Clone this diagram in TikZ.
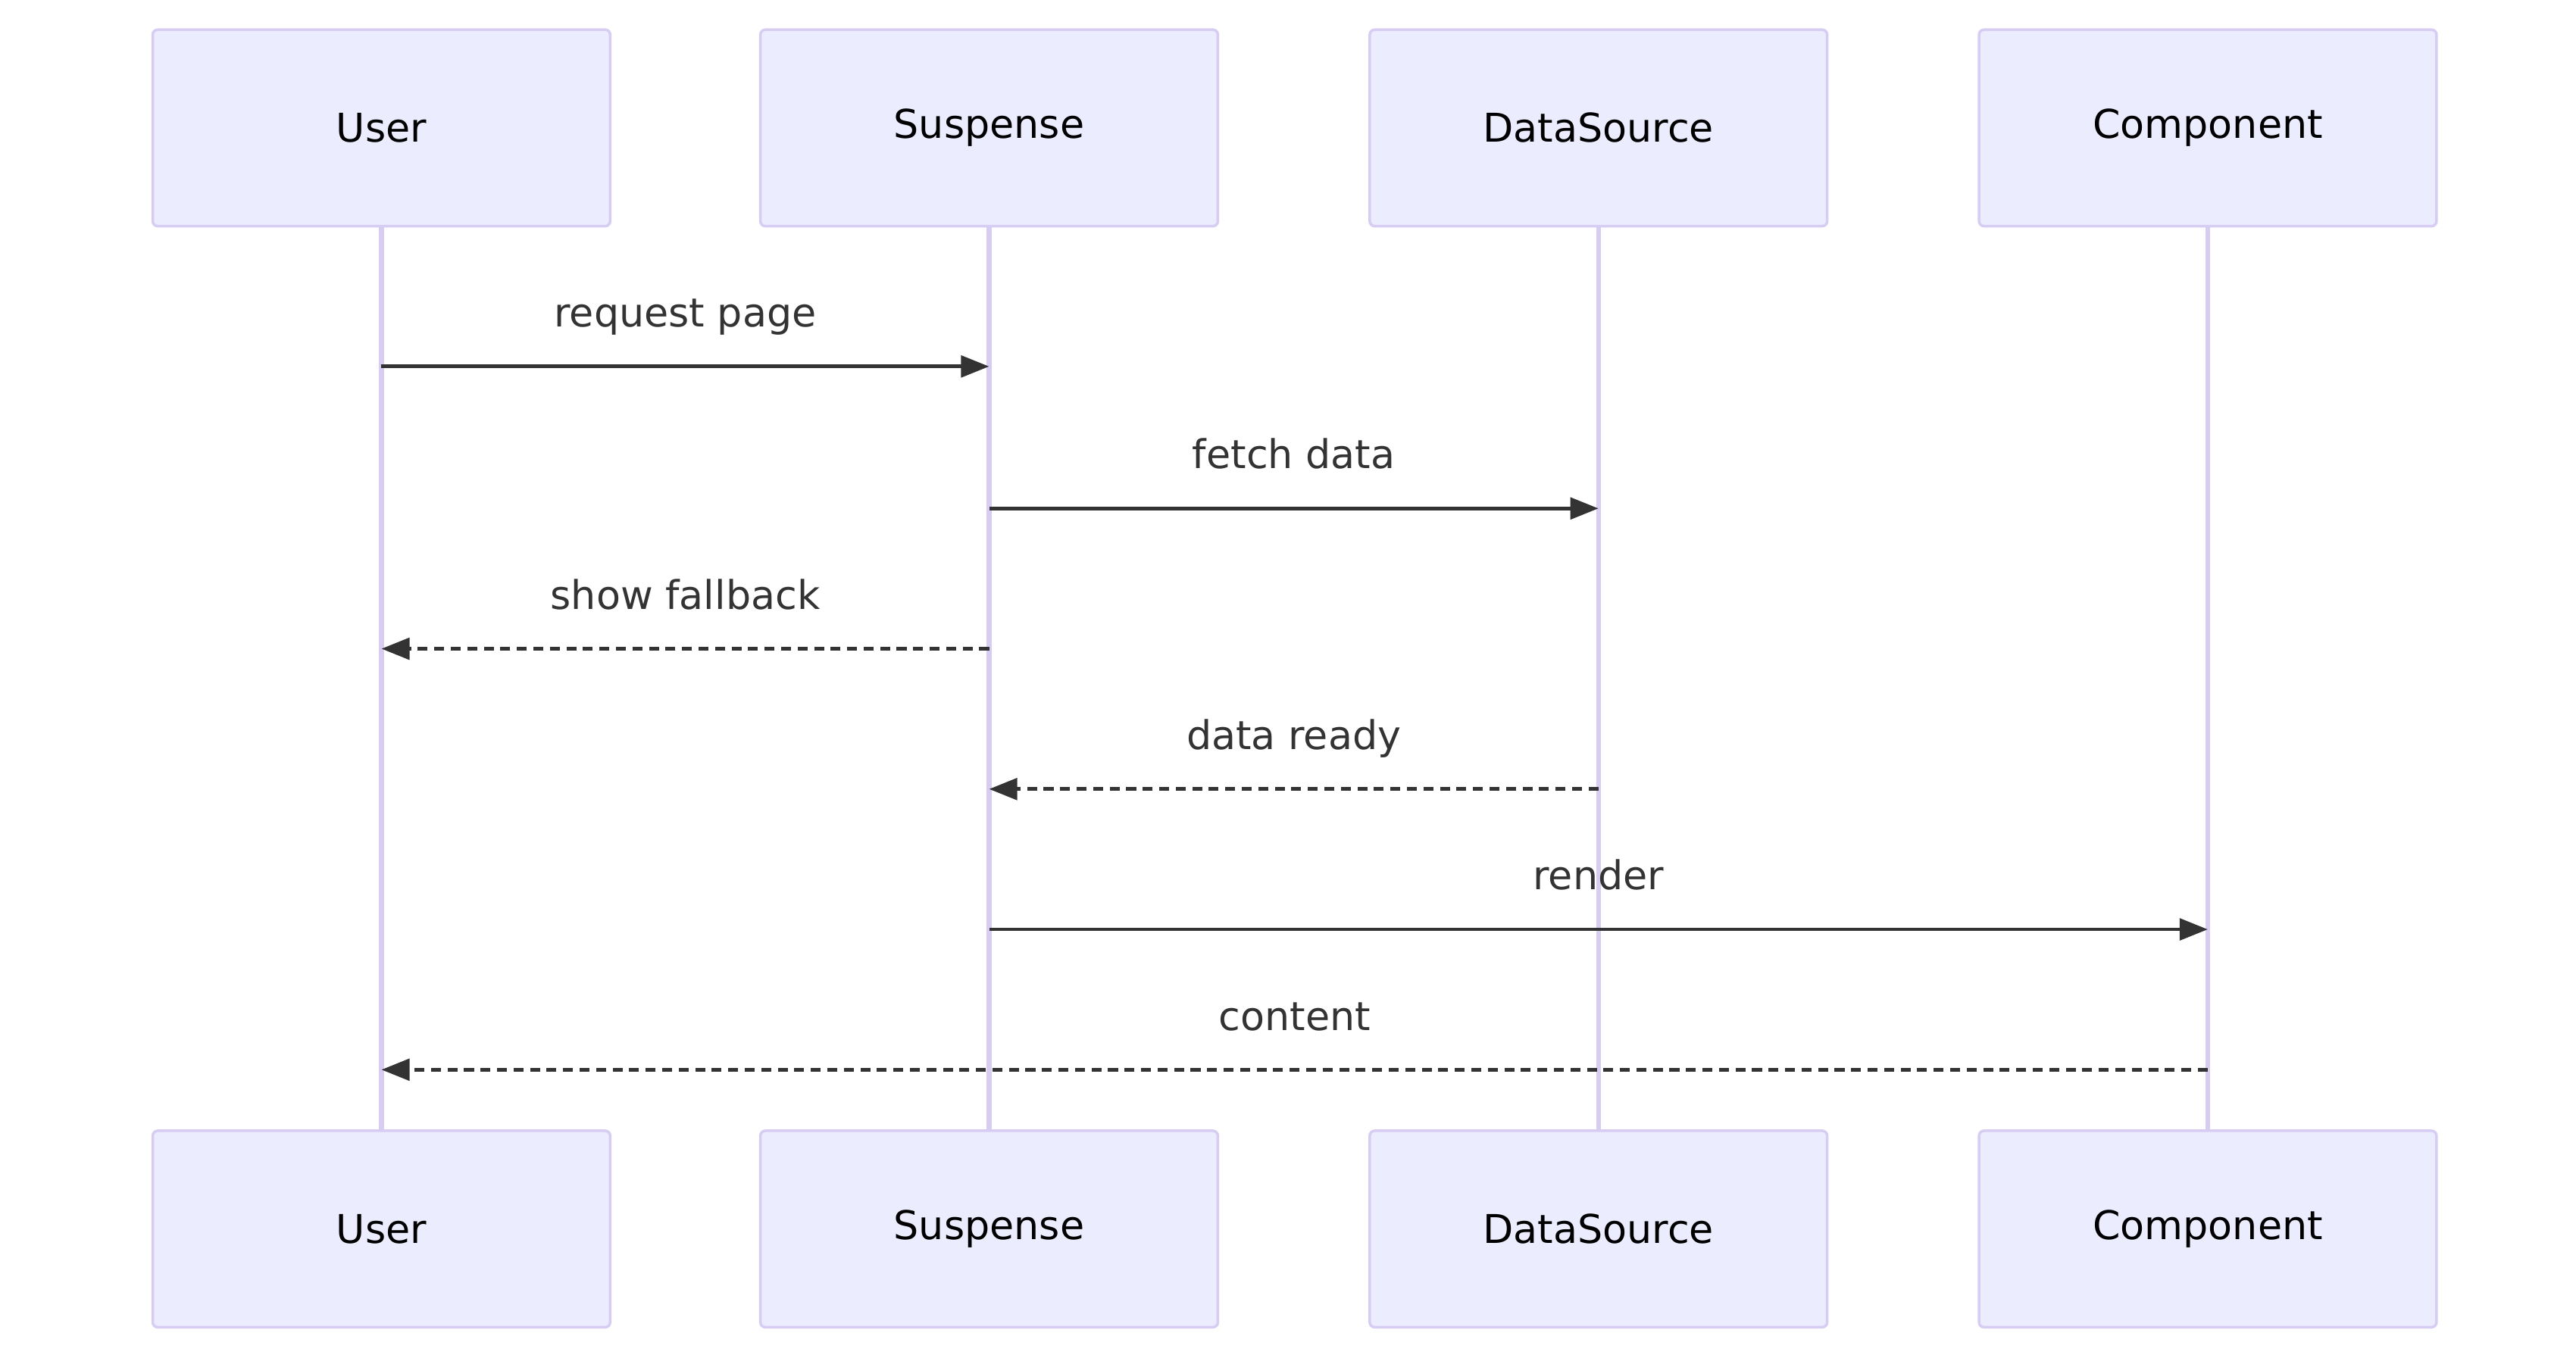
\documentclass[tikz,border=0pt]{standalone}
\usepackage{fontspec}
\setmainfont{DejaVu Sans}
\usetikzlibrary{arrows.meta}
\definecolor{actfill}{HTML}{ECECFF}
\definecolor{actline}{HTML}{D7CCF2}
\definecolor{msg}{HTML}{333333}
\begin{document}
\begin{tikzpicture}[x=1pt,y=-1pt,
  actor/.style={draw=actline,line width=1.6pt,fill=actfill,rounded corners=3pt,minimum width=277pt,minimum height=119pt,font=\fontsize{24}{28}\selectfont,text=black},
  life/.style={actline,line width=3pt},
  m/.style={msg,line width=2.2pt,-{Triangle[length=17pt,width=13pt]}},
  r/.style={m,dash pattern=on 6pt off 4pt},
  lbl/.style={font=\fontsize{24}{28}\selectfont,text=msg,anchor=base}]
\useasboundingbox (0,0) rectangle (1560,820.4);
\foreach \n/\x/\t in {U/231/User,S/599/Suspense,D/968/DataSource,C/1337/Component}{
  \coordinate (\n t) at (\x,137);
  \coordinate (\n b) at (\x,685);
  \draw[life] (\n t) -- (\n b);
  \node[actor] (\n top) at (\x,77.5) {\t};
  \node[actor] (\n bot) at (\x,744.5) {\t};
}
\foreach \a/\b/\y/\s/\t in {U/S/222/m/request page,S/D/308/m/fetch data,S/U/393/r/show fallback,D/S/478/r/data ready,S/C/563/m/render,C/U/648/r/content}{
  \coordinate (a) at (\a t |- 0,\y);
  \coordinate (b) at (\b t |- 0,\y);
  \draw[\s] (a) -- (b);
  \path (a) -- (b) node[midway,lbl,yshift=24pt] {\t};
}
\end{tikzpicture}
\end{document}
